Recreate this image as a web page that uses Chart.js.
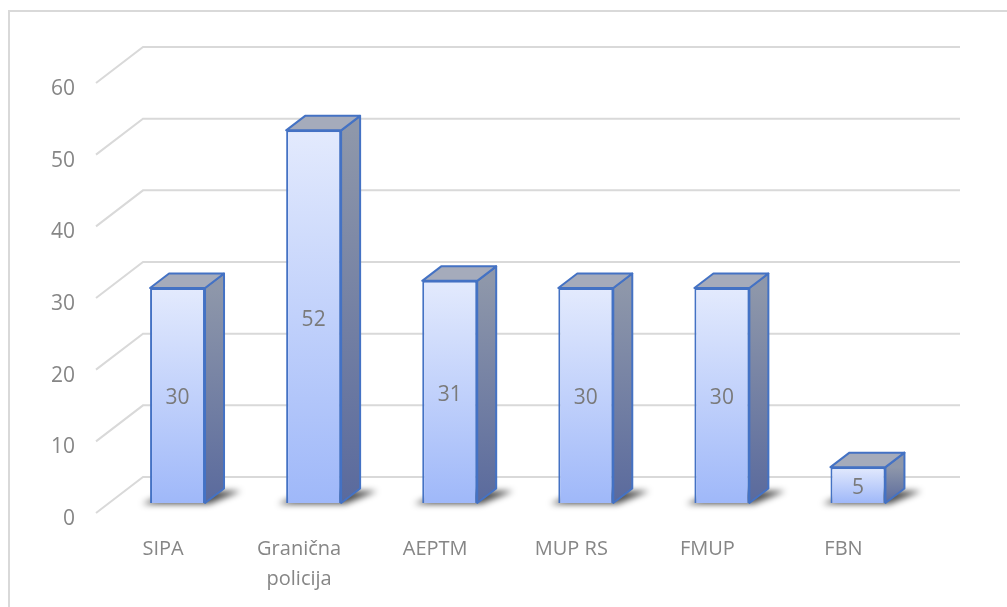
<!DOCTYPE html>
<html>
<head>
<meta charset="utf-8">
<script src="https://cdn.jsdelivr.net/npm/chart.js@4/dist/chart.umd.min.js"></script>
<style>
  html, body { margin: 0; padding: 0; background: #fff; }
  canvas { display: block; }
</style>
</head>
<body>
<canvas id="chart" width="1007" height="607"></canvas>
<script>
const categories = ["SIPA", ["Granična", "policija"], "AEPTM", "MUP RS", "FMUP", "FBN"];
const values = [30, 52, 31, 30, 30, 5];
const yTicks = [0, 10, 20, 30, 40, 50, 60];

const depthX = 19, depthY = 14.5;   // bar depth in the oblique view
const gridGray = "#d9d9d9";
const textGray = "#868686";
const edgeBlue = "#4472c4";

function frontFill(context) {
  const chart = context.chart;
  if (!chart.chartArea || context.raw === undefined) return "#c5d4fa";
  const y = chart.scales.y;
  const top = y.getPixelForValue(context.raw);
  const base = y.getPixelForValue(0);
  const g = chart.ctx.createLinearGradient(0, top, 0, base);
  g.addColorStop(0, "#e3eafd");
  g.addColorStop(1, "#9fb8f9");
  return g;
}

const box3d = {
  id: "box3d",
  beforeDatasetsDraw(chart) {
    const ctx = chart.ctx;
    const y = chart.scales.y;
    ctx.save();
    // outer frame
    ctx.strokeStyle = gridGray;
    ctx.lineWidth = 2;
    ctx.strokeRect(9, 11, 1020, 620);

    // back wall gridlines, floor diagonals and tick labels
    ctx.font = "21px 'Open Sans'";
    ctx.fillStyle = textGray;
    ctx.textAlign = "right";
    ctx.textBaseline = "middle";
    yTicks.forEach(v => {
      const py = y.getPixelForValue(v);
      ctx.beginPath();
      ctx.moveTo(96, py + 10);
      ctx.lineTo(143, py - 26);
      ctx.lineTo(960, py - 26);
      ctx.stroke();
      ctx.fillText(String(v), 75, py + 16);
    });

    // floor shadows
    const meta = chart.getDatasetMeta(0);
    meta.data.forEach(bar => {
      const L = bar.x - bar.width / 2, R = bar.x + bar.width / 2, B = bar.base;
      ctx.save();
      ctx.filter = "blur(3px)";
      ctx.fillStyle = "rgba(0,0,0,0.7)";
      ctx.beginPath();
      ctx.moveTo(L - 8, B + 1);
      ctx.lineTo(R + 4, B + 1);
      ctx.lineTo(R + 36, B - 12);
      ctx.lineTo(L + 22, B - 12);
      ctx.closePath();
      ctx.fill();
      ctx.restore();
    });
    ctx.restore();
  },
  afterDatasetsDraw(chart) {
    const ctx = chart.ctx;
    const meta = chart.getDatasetMeta(0);
    ctx.save();
    ctx.lineWidth = 2;
    ctx.lineJoin = "round";
    ctx.strokeStyle = edgeBlue;
    meta.data.forEach((bar, i) => {
      const L = bar.x - bar.width / 2, R = bar.x + bar.width / 2;
      const T = bar.y, B = bar.base;

      // right side
      const sg = ctx.createLinearGradient(0, T, 0, B);
      sg.addColorStop(0, "#8e97aa");
      sg.addColorStop(1, "#5a6a9d");
      ctx.fillStyle = sg;
      ctx.beginPath();
      ctx.moveTo(R, T);
      ctx.lineTo(R + depthX, T - depthY);
      ctx.lineTo(R + depthX, B - depthY);
      ctx.lineTo(R, B);
      ctx.closePath();
      ctx.fill();
      ctx.stroke();

      // top
      ctx.fillStyle = "#a5abbb";
      ctx.beginPath();
      ctx.moveTo(L, T);
      ctx.lineTo(L + depthX, T - depthY);
      ctx.lineTo(R + depthX, T - depthY);
      ctx.lineTo(R, T);
      ctx.closePath();
      ctx.fill();
      ctx.stroke();

      // value label
      ctx.fillStyle = "#7a7a7a";
      ctx.font = "21px 'Open Sans'";
      ctx.textAlign = "center";
      ctx.textBaseline = "middle";
      ctx.fillText(String(values[i]), bar.x, (T + B) / 2 + 3);
    });

    // category labels on the front edge of the floor
    const x = chart.scales.x;
    ctx.fillStyle = textGray;
    ctx.font = "20px 'Open Sans'";
    categories.forEach((c, i) => {
      const lines = Array.isArray(c) ? c : [c];
      const px = x.getPixelForValue(i) - 14.5;
      lines.forEach((t, k) => {
        ctx.fillText(t, px, chart.chartArea.bottom + 46 + k * 30);
      });
    });
    ctx.restore();
  }
};

new Chart(document.getElementById("chart"), {
  type: "bar",
  data: {
    labels: categories,
    datasets: [{
      data: values,
      backgroundColor: frontFill,
      borderColor: edgeBlue,
      borderWidth: 2,
      categoryPercentage: 1,
      barPercentage: 0.404
    }]
  },
  options: {
    responsive: false,
    animation: false,
    layout: { padding: { left: 109.5, right: 81, top: 73, bottom: 104 } },
    plugins: { legend: { display: false }, tooltip: { enabled: false } },
    scales: {
      x: { display: false },
      y: { display: false, min: 0, max: 60, ticks: { stepSize: 10 } }
    }
  },
  plugins: [box3d]
});
</script>
</body>
</html>
